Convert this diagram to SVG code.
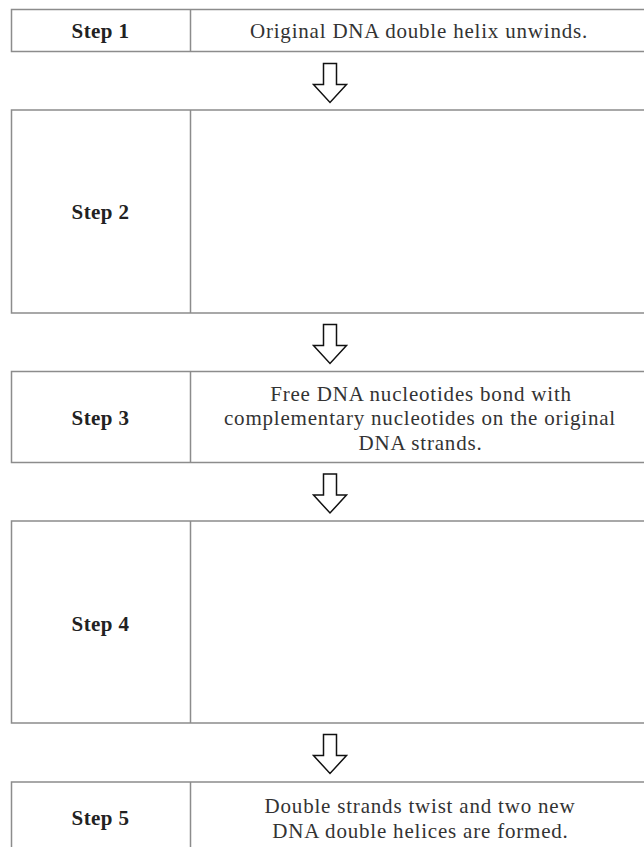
<svg xmlns="http://www.w3.org/2000/svg" width="644" height="847" viewBox="0 0 644 847">
<style>
.box{fill:none;stroke:#8c8c8c;stroke-width:1.5}
.lbl{font-family:"Liberation Serif",serif;font-size:21px;font-weight:bold;fill:#222;text-anchor:middle;letter-spacing:0.4px}
.txt{font-family:"Liberation Serif",serif;font-size:21px;fill:#333;text-anchor:middle;letter-spacing:0.8px}
.arr{fill:#fff;stroke:#111;stroke-width:1.5;stroke-linejoin:miter}
</style>
<defs>
<path id="arrow" class="arr" d="M-6.5,0 H6.5 V21 H16.5 L0,39 L-16.5,21 H-6.5 Z"/>
</defs>
<rect width="644" height="847" fill="#fff"/>
<g id="step1">
<path class="box" d="M645,9.5 H11.5 V51.5 H645 M190.5,9.5 V51.5"/>
<text class="lbl" x="100.5" y="38">Step 1</text>
<text class="txt" x="419" y="38">Original DNA double helix unwinds.</text>
</g>
<g id="step2">
<path class="box" d="M645,110 H11.5 V313 H645 M190.5,110 V313"/>
<text class="lbl" x="100.5" y="219">Step 2</text>
</g>
<g id="step3">
<path class="box" d="M645,371.5 H11.5 V462.5 H645 M190.5,371.5 V462.5"/>
<text class="lbl" x="100.5" y="425">Step 3</text>
<text class="txt" x="421" y="400.5">Free DNA nucleotides bond with</text>
<text class="txt" x="420" y="425">complementary nucleotides on the original</text>
<text class="txt" x="420.5" y="449.5">DNA strands.</text>
</g>
<g id="step4">
<path class="box" d="M645,521 H11.5 V723 H645 M190.5,521 V723"/>
<text class="lbl" x="100.5" y="631">Step 4</text>
</g>
<g id="step5">
<path class="box" d="M645,782 H11.5 V850 M190.5,782 V850"/>
<text class="lbl" x="100.5" y="825">Step 5</text>
<text class="txt" x="420" y="813">Double strands twist and two new</text>
<text class="txt" x="420.5" y="838">DNA double helices are formed.</text>
</g>
<g id="connectors">
<use href="#arrow" x="330" y="63.5"/>
<use href="#arrow" x="330" y="324.5"/>
<use href="#arrow" x="330" y="474"/>
<use href="#arrow" x="330" y="734.5"/>
</g>
</svg>
